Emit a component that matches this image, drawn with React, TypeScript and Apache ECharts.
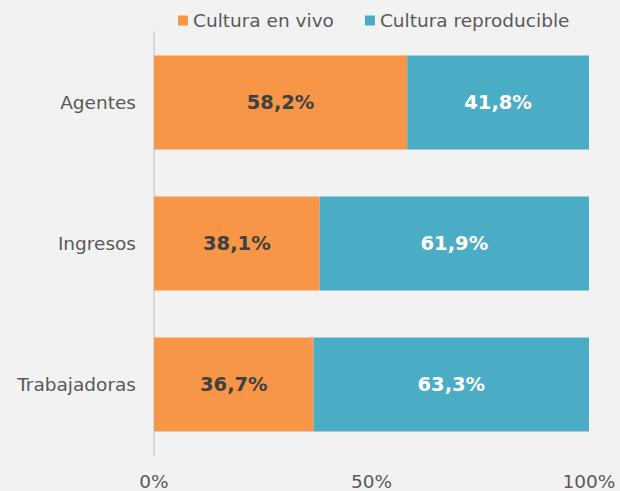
import React, { useEffect, useRef } from "react";
import * as echarts from "echarts";

const categories = ["Agentes", "Ingresos", "Trabajadoras"];
const seriesNames = ["Cultura en vivo", "Cultura reproducible"];
const enVivo = [58.2, 38.1, 36.7];
const reproducible = [41.8, 61.9, 63.3];
const xTicks = [0, 50, 100];

const FONT = "'DejaVu Sans', Verdana, sans-serif";
const fmt = (v: number) => v.toFixed(1).replace(".", ",") + "%";

export default function App() {
  const ref = useRef<HTMLDivElement>(null);
  useEffect(() => {
    if (!ref.current) return;
    const chart = echarts.init(ref.current, undefined, { renderer: "svg" });
    chart.setOption({
      animation: false,
      backgroundColor: "#f2f2f2",
      textStyle: { fontFamily: FONT },
      legend: {
        left: 173,
        top: 6,
        itemWidth: 10,
        itemHeight: 10,
        itemGap: 31,
        icon: "rect",
        data: seriesNames,
        textStyle: { fontFamily: FONT, fontSize: 18.5, color: "#595959", padding: [0, 0, 0, 0] },
      },
      grid: { left: 154, right: 31, top: 32, bottom: 33, containLabel: false },
      xAxis: {
        type: "value",
        min: 0,
        max: 100,
        interval: 50,
        axisLine: { show: false },
        axisTick: { show: false },
        splitLine: { show: false },
        axisLabel: {
          margin: 17,
          fontFamily: FONT,
          fontSize: 18.5,
          color: "#595959",
          formatter: (v: number) => (xTicks.includes(v) ? v + "%" : ""),
        },
      },
      yAxis: {
        type: "category",
        data: categories,
        inverse: true,
        axisLine: { show: true, lineStyle: { color: "#d9d9d9", width: 2 } },
        axisTick: { show: false },
        axisLabel: { margin: 18, fontFamily: FONT, fontSize: 18.5, color: "#595959" },
      },
      series: [
        {
          name: seriesNames[0],
          type: "bar",
          stack: "total",
          barWidth: 94,
          data: enVivo,
          itemStyle: { color: "#f79646" },
          label: {
            show: true,
            position: "inside",
            formatter: (p: any) => fmt(p.value),
            fontFamily: FONT,
            fontSize: 19.5,
            fontWeight: "bold",
            color: "#404040",
          },
        },
        {
          name: seriesNames[1],
          type: "bar",
          stack: "total",
          barWidth: 94,
          data: reproducible,
          itemStyle: { color: "#4bacc6" },
          label: {
            show: true,
            position: "inside",
            formatter: (p: any) => fmt(p.value),
            fontFamily: FONT,
            fontSize: 19.5,
            fontWeight: "bold",
            color: "#ffffff",
          },
        },
      ],
    });
    return () => chart.dispose();
  }, []);
  return <div ref={ref} style={{ width: 620, height: 491, position: "absolute", left: 0, top: 0 }} />;
}
